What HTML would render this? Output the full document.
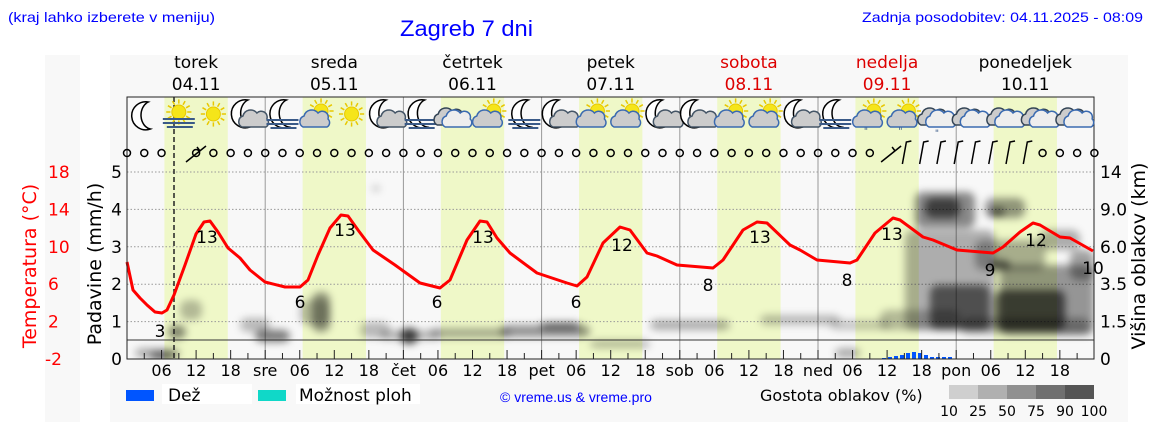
<!DOCTYPE html>
<html><head><meta charset="utf-8"><style>
html,body{margin:0;padding:0;background:#fff;width:1152px;height:443px;overflow:hidden}
svg{display:block}
text{font-family:"DejaVu Sans","Liberation Sans",sans-serif}
</style></head><body>
<svg id="s" width="1152" height="443" xmlns="http://www.w3.org/2000/svg">
<defs>
<filter id="bl" x="-30%" y="-30%" width="160%" height="160%"><feGaussianBlur stdDeviation="4"/></filter>
<clipPath id="pc"><rect x="127" y="97" width="967" height="262"/></clipPath>
</defs>
<rect x="45" y="55" width="35" height="367" fill="#f8f8f8"/>
<rect x="110" y="55" width="1018" height="367" fill="#f8f8f8"/>
<text x="8" y="22" font-size="14" fill="#0000ff" textLength="207" lengthAdjust="spacingAndGlyphs" style="font-family:'Liberation Sans'">(kraj lahko izberete v meniju)</text>
<text x="400" y="36" font-size="22" fill="#0000ff" textLength="133" lengthAdjust="spacingAndGlyphs" style="font-family:'Liberation Sans'">Zagreb 7 dni</text>
<text x="1143" y="22" font-size="14" fill="#0000ff" text-anchor="end" textLength="281" lengthAdjust="spacingAndGlyphs" style="font-family:'Liberation Sans'">Zadnja posodobitev: 04.11.2025 - 08:09</text>
<g id="g"></g>
</svg>
<script>
const g=document.getElementById('g');let h='';
const X=t=>127+t*138.2/24;
const P=v=>359-v*37.4;
for(let d=0;d<7;d++){h+=`<rect x="${X(d*24+6.5)}" y="97" width="${X(17.5)-X(6.5)}" height="262" fill="#eff8c8"/>`;}
for(let v=1;v<=5;v++)h+=`<line x1="127" x2="1094" y1="${P(v)}" y2="${P(v)}" stroke="#999" stroke-dasharray="1.5,2" stroke-width="1"/>`;
for(let d=1;d<7;d++)h+=`<line x1="${X(d*24)}" x2="${X(d*24)}" y1="97" y2="359" stroke="#999" stroke-width="1"/>`;
const cl=[[135,348,45,10,.3],[150,352,25,8,.5],[180,300,22,20,.25],[168,325,18,14,.45],[240,318,30,14,.25],[255,330,35,12,.5],[300,300,30,25,.25],[312,292,18,40,.4],[360,322,30,16,.25],[400,328,18,16,.7],[380,330,60,10,.25],[430,328,80,10,.3],[500,325,90,12,.4],[540,322,40,8,.45],[590,340,60,8,.25],[650,320,80,10,.3],[760,315,80,10,.25],[830,320,60,10,.2],[835,348,25,10,.3],[905,230,90,100,.3],[915,192,60,36,.45],[925,198,35,20,.55],[985,198,40,20,.4],[990,208,15,8,.55],[975,240,70,30,.3],[1000,265,94,70,.4],[930,285,60,45,.55],[995,290,70,40,.6],[1070,250,24,30,.35],[880,310,80,20,.25],[960,318,130,16,.3],[990,260,20,10,.55],[372,186,8,5,.25],[1040,230,40,20,.3]];
h+='<g clip-path="url(#pc)" filter="url(#bl)">';
cl.forEach(c=>h+=`<rect x="${c[0]}" y="${c[1]}" width="${c[2]}" height="${c[3]}" rx="8" fill="#000" opacity="${c[4]}"/>`);
h+='</g>';
h+=`<line x1="127" x2="1094" y1="340" y2="340" stroke="#333" stroke-width="1"/>`;
[[882,1],[888,2],[894,3],[900,4],[906,6],[912,7],[918,6],[924,4],[930,2],[936,2],[942,2],[948,2]].forEach(b=>h+=`<rect x="${b[0]}" y="${359-b[1]}" width="4" height="${b[1]}" fill="#0055ff"/>`);
h+=`<line x1="174" x2="174" y1="97" y2="359" stroke="#222" stroke-width="1.5" stroke-dasharray="5,3"/>`;
const tp=[[127,262],[133,290],[140,298],[147,305],[155,312],[162,313],[167,310],[174,295],[185,265],[196,234],[204,222],[210,221],[218,232],[228,248],[240,258],[250,270],[265,282],[285,287],[300,287],[308,280],[318,255],[330,228],[341,215],[348,216],[358,230],[373,250],[395,265],[420,283],[440,288],[450,280],[467,240],[480,221],[487,222],[497,238],[510,253],[537,273],[567,283],[577,286],[587,277],[603,243],[620,227],[630,230],[647,253],[657,256],[677,265],[713,268],[723,260],[743,230],[757,222],[767,223],[790,245],[800,250],[817,260],[850,263],[857,260],[875,233],[893,218],[900,220],[923,237],[933,240],[957,250],[993,253],[1003,247],[1020,232],[1033,223],[1040,225],[1060,237],[1070,238],[1093,251]];
h+=`<polyline points="${tp.map(p=>p.join(',')).join(' ')}" fill="none" stroke="#ff0000" stroke-width="3" stroke-linejoin="round"/>`;
[['3',160,337],['13',207,243],['6',300,308],['13',345,236],['6',437,308],['13',483,243],['6',576,308],['12',622,251],['8',708,291],['13',760,243],['8',847,286],['13',892,240],['9',990,276],['12',1036,246],['10',1093,274]].forEach(t=>h+=`<text x="${t[1]}" y="${t[2]}" font-size="17" text-anchor="middle" fill="#000">${t[0]}</text>`);
h+=`<rect x="127" y="97" width="967" height="262" fill="none" stroke="#222" stroke-width="1"/>`;
for(let k=1;k<56;k++){const x=X(k*3);h+=`<line x1="${x}" x2="${x}" y1="359" y2="${k%2?353:350}" stroke="#222"/>`;}
const dn=['','sre','čet','pet','sob','ned','pon'];
for(let d=0;d<7;d++){if(d>0)h+=`<text x="${X(d*24)}" y="376" font-size="16" text-anchor="middle">${dn[d]}</text>`;
 ['06','12','18'].forEach((s,i)=>h+=`<text x="${X(d*24+6*(i+1))}" y="376" font-size="16" text-anchor="middle">${s}</text>`);}
const nm=[['torek','04.11'],['sreda','05.11'],['četrtek','06.11'],['petek','07.11'],['sobota','08.11'],['nedelja','09.11'],['ponedeljek','10.11']];
nm.forEach((n,d)=>{const c=(d==4||d==5)?'#dd0000':'#000';const x=X(d*24+12);h+=`<text x="${x}" y="68" font-size="17" text-anchor="middle" fill="${c}">${n[0]}</text><text x="${x}" y="90" font-size="17" text-anchor="middle" fill="${c}">${n[1]}</text>`;});
for(let v=0;v<=5;v++)h+=`<text x="122" y="${P(v)+6}" font-size="17" text-anchor="end">${v}</text>`;
['-2','2','6','10','14','18'].forEach((s,i)=>h+=`<text x="${i?48:45}" y="${P(i)+6}" font-size="17" fill="#ff0000">${s}</text>`);
['0','1.5','3.5','6.0','9.0','14'].forEach((s,i)=>h+=`<text x="1100" y="${P(i)+6}" font-size="17">${s}</text>`);
h+=`<text transform="translate(36,266) rotate(-90)" font-size="19" fill="#ff0000" text-anchor="middle">Temperatura (°C)</text>`;
h+=`<text transform="translate(101,264) rotate(-90)" font-size="19" text-anchor="middle">Padavine (mm/h)</text>`;
h+=`<text transform="translate(1145,256) rotate(-90)" font-size="19" text-anchor="middle">Višina oblakov (km)</text>`;
for(let k=0;k<=56;k++){const x=X(k*3);
 if(k==3){h+=`<path d="M186,162 L206,146 M200,151 l-3,-4" stroke="#000" stroke-width="1.5" fill="none"/>`;continue;}
 if(k==44){h+=`<path d="M${x-6},162 L${x+14},146 M${x+8},151 l-3,-4" stroke="#000" stroke-width="1.5" fill="none"/>`;continue;}
 if(k>44&&k<=52){h+=`<path d="M${x-2},164 L${x+2},142 l5,-1" stroke="#000" stroke-width="1.5" fill="none"/>`;continue;}
 h+=`<circle cx="${x}" cy="153" r="3.5" fill="none" stroke="#000" stroke-width="1.5"/>`;}
const ic=['m','sf','s','mc','mf','sc','s','mc','mf','c','sc','mf','mc','sc','sc','mc','mc','sc','sc','mc','mf','scr','scr','cr','c','c','c','c'];
function moon(x,y){return `<path d="M${x+4},${y-14} a14,14 0 1,0 2,27 a11,14 0 0,1 -2,-27z" fill="#fff" stroke="#000" stroke-width="1.5"/>`}
function sun(x,y,r){let s='';for(let a=0;a<12;a++){const t=a*Math.PI/6;s+=`<line x1="${x+Math.cos(t)*r*1.2}" y1="${y+Math.sin(t)*r*1.2}" x2="${x+Math.cos(t)*r*1.8}" y2="${y+Math.sin(t)*r*1.8}" stroke="#e8c800" stroke-width="1.5"/>`;}return s+`<circle cx="${x}" cy="${y}" r="${r}" fill="#f5e51a" stroke="#e8c800"/>`}
function cloud(x,y,f,st){return `<path d="M${x-12},${y+7} a6,6 0 0,1 1,-11 a8,8 0 0,1 14,-3 a6,6 0 0,1 10,6 a5,5 0 0,1 -1,8 z" fill="${f}" stroke="${st}" stroke-width="1.5"/>`}
function fog(x,y){return `<path d="M${x-16},${y} h32 M${x-16},${y+4} h32 M${x-12},${y+8} h26" stroke="#3a5a88" stroke-width="2"/>`}
ic.forEach((t,i)=>{const x=X(i*6+3),y=116;
 if(t=='m')h+=moon(x,y);
 if(t=='mc')h+=moon(x-4,y-2)+cloud(x+6,y+4,'#ccc','#456');
 if(t=='mf')h+=moon(x,y-2)+fog(x,y+4);
 if(t=='s')h+=sun(x,y-2,7);
 if(t=='sf')h+=sun(x,y-4,7)+fog(x,y+3);
 if(t=='sc'||t=='scr')h+=sun(x+4,y-5,7)+cloud(x-2,y+4,'#ccc','#3a6ab0')+(t=='scr'?`<text x="${x-6}" y="${y+18}" font-size="9" fill="#3a5a88">"</text>`:'');
 if(t=='c'||t=='cr')h+=cloud(x-6,y+2,'#ccc','#345')+cloud(x+2,y+4,'#eee','#3a6ab0')+(t=='cr'?`<text x="${x-4}" y="${y+20}" font-size="9" fill="#3a5a88">"</text>`:'');
});
h+=`<rect x="162" y="384" width="90" height="20" fill="#fff"/><rect x="296" y="384" width="124" height="20" fill="#fff"/>`;
h+=`<rect x="126" y="390" width="28" height="11" fill="#0055ff"/><text x="168" y="401" font-size="17">Dež</text>`;
h+=`<rect x="258" y="390" width="28" height="11" fill="#10d8c8"/><text x="299" y="401" font-size="17">Možnost ploh</text>`;
h+=`<text x="500" y="402" font-size="14" fill="#0000ff" style="font-family:'Liberation Sans'">© vreme.us &amp; vreme.pro</text>`;
h+=`<text x="760" y="401" font-size="16">Gostota oblakov (%)</text>`;
['#cfcfcf','#b0b0b0','#909090','#707070','#555'].forEach((c,i)=>h+=`<rect x="${949+i*29}" y="385" width="29" height="14" fill="${c}"/>`);
['10','25','50','75','90','100'].forEach((s,i)=>h+=`<text x="${949+i*29}" y="416" font-size="14" text-anchor="middle">${s}</text>`);
g.innerHTML=h;
</script>
</body></html>
